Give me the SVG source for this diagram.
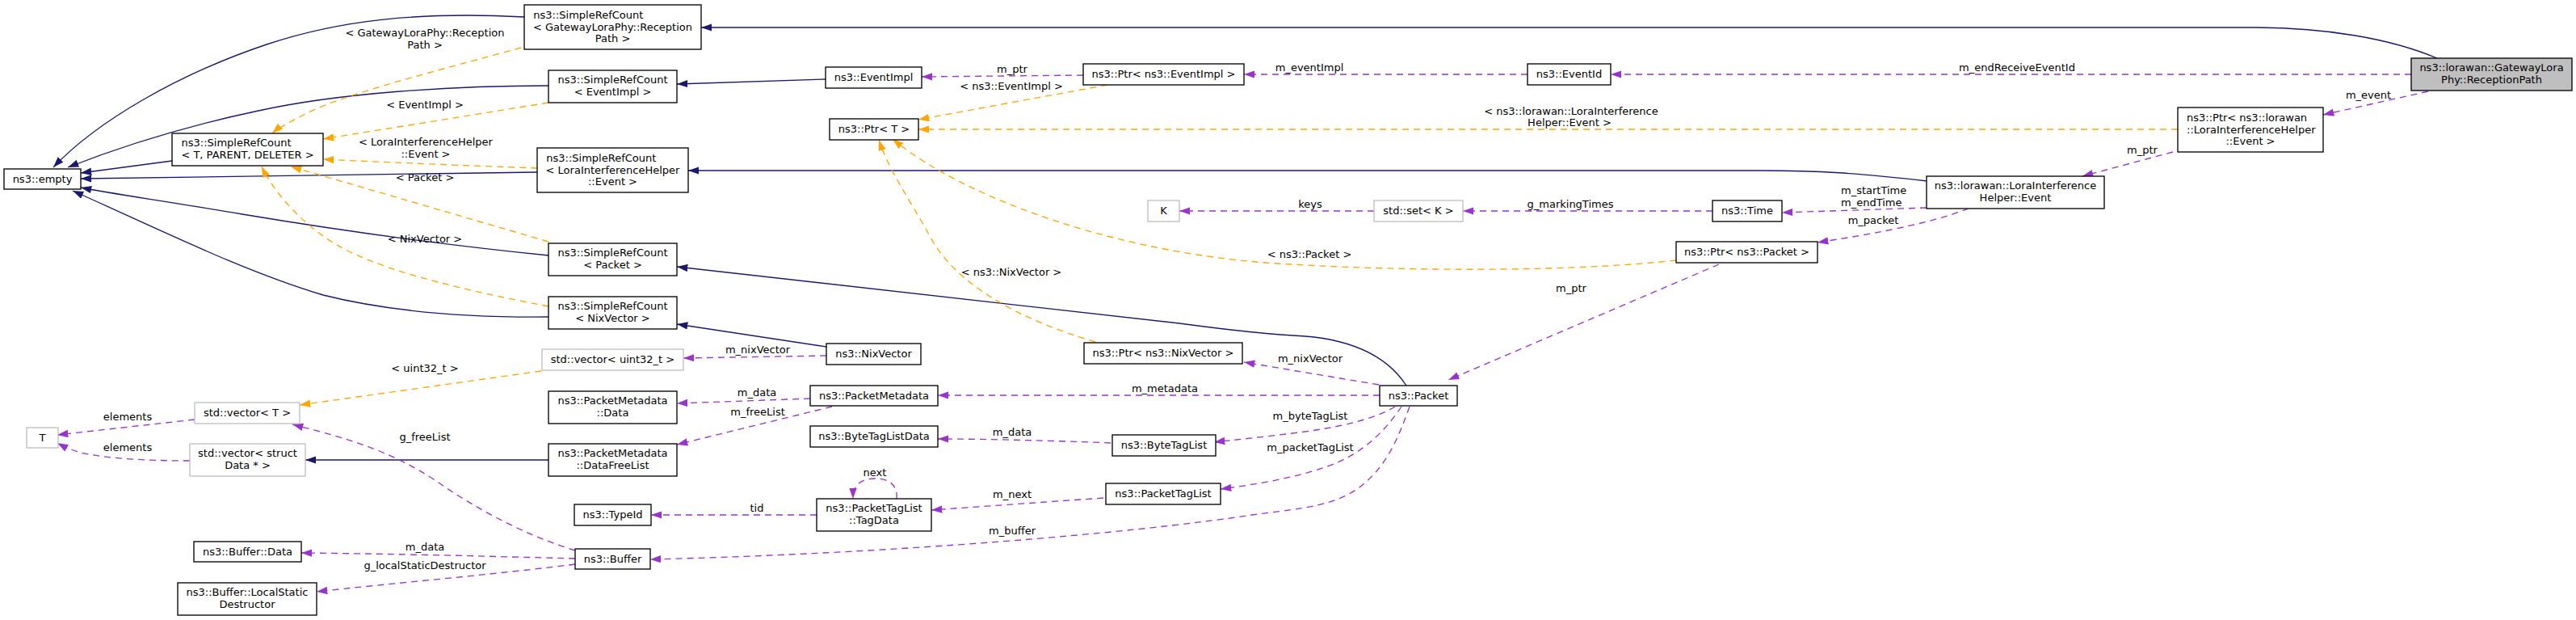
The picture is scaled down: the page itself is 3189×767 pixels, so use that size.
<svg xmlns="http://www.w3.org/2000/svg" width="3189" height="767" viewBox="0 0 3189 767">
<style>
text{font-family:"DejaVu Sans","Liberation Sans",sans-serif;font-size:13px;fill:#000}
.m{text-anchor:middle}
.s{text-anchor:start}
.n{fill:#fff;stroke:#000;stroke-width:1.33}
.g{fill:#fff;stroke:#bfbfbf;stroke-width:1.33}
.r{fill:#bfbfbf;stroke:#000;stroke-width:1.33}
.inh{fill:none;stroke:#191970;stroke-width:1.33;marker-end:url(#aB)}
.use{fill:none;stroke:#9a32cd;stroke-width:1.33;stroke-dasharray:8,6;marker-end:url(#aP)}
.tpl{fill:none;stroke:#ffa500;stroke-width:1.33;stroke-dasharray:8,6;marker-end:url(#aO)}
</style>
<defs>
<marker id="aB" markerWidth="14" markerHeight="10" refX="13.3" refY="4.7" orient="auto" markerUnits="userSpaceOnUse"><path d="M0,0 L13.3,4.7 L0,9.4 z" fill="#191970"/></marker>
<marker id="aP" markerWidth="14" markerHeight="10" refX="13.3" refY="4.7" orient="auto" markerUnits="userSpaceOnUse"><path d="M0,0 L13.3,4.7 L0,9.4 z" fill="#9a32cd"/></marker>
<marker id="aO" markerWidth="14" markerHeight="10" refX="13.3" refY="4.7" orient="auto" markerUnits="userSpaceOnUse"><path d="M0,0 L13.3,4.7 L0,9.4 z" fill="#ffa500"/></marker>
</defs>
<rect width="3189" height="767" fill="#fff"/>
<g id="edges">
<path class="inh" d="M649,21 C520,14 420,25 330,55 C220,92 120,150 66,207"/>
<path class="inh" d="M679,106 C560,106 420,115 320,137 C220,158 140,185 84,207"/>
<path class="inh" d="M213,199 L100,214"/>
<path class="inh" d="M665,213 L100,221"/>
<path class="inh" d="M679,316 C560,304 420,285 300,265 C200,248 140,240 100,232"/>
<path class="inh" d="M679,392 C580,393 480,385 400,365 C300,335 200,285 90,236"/>
<path class="inh" d="M3017,72 C2960,48 2880,34 2790,34 L868,34"/>
<path class="inh" d="M1022,98 L838,104"/>
<path class="inh" d="M2386,224 C2300,214 2250,211 2180,211 L852,211"/>
<path class="inh" d="M1741,477 C1720,445 1680,418 1600,415 C1560,413 1520,408 1460,400 L838,330"/>
<path class="inh" d="M1023,429 L838,401"/>
<path class="inh" d="M679,569 L378,569"/>
<path class="tpl" d="M645,59 C540,88 430,115 380,140 C360,150 345,158 337,165"/>
<path class="tpl" d="M679,127 L400,172"/>
<path class="tpl" d="M665,208 C580,205 460,200 400,197"/>
<path class="tpl" d="M679,299 L360,206"/>
<path class="tpl" d="M679,379 C590,362 490,340 430,310 C380,285 340,240 324,206"/>
<path class="tpl" d="M1371,105 L1137,148"/>
<path class="tpl" d="M2696,160 L1137,160"/>
<path class="tpl" d="M2075,322 C1950,336 1750,336 1600,327 C1400,318 1200,250 1105,172"/>
<path class="tpl" d="M1356,423 C1260,395 1180,350 1150,290 C1125,245 1100,210 1088,173"/>
<path class="tpl" d="M670,459 L371,501"/>
<path class="use" d="M2985,92 L1994,92"/>
<path class="use" d="M3006,113 L2876,142"/>
<path class="use" d="M2690,188 L2578,218"/>
<path class="use" d="M1891,92 L1540,92"/>
<path class="use" d="M1341,93 L1141,95"/>
<path class="use" d="M2385,257 L2206,263"/>
<path class="use" d="M2437,258 C2380,280 2300,292 2250,300"/>
<path class="use" d="M2120,261 L1811,261"/>
<path class="use" d="M1701,261 L1460,261"/>
<path class="use" d="M2128,327 L1793,470"/>
<path class="use" d="M1707,476 L1540,448"/>
<path class="use" d="M1708,489 L1161,489"/>
<path class="use" d="M1727,503 C1700,520 1650,530 1600,536 C1560,541 1530,544 1503,547"/>
<path class="use" d="M1735,503 C1710,540 1680,565 1640,578 C1600,592 1550,600 1511,605"/>
<path class="use" d="M1745,503 C1730,545 1715,580 1680,605 C1650,625 1620,628 1550,637 C1400,660 1100,685 805,692"/>
<path class="use" d="M1003,493 L838,499"/>
<path class="use" d="M1030,503 L838,550"/>
<path class="use" d="M1375,548 C1300,545 1220,543 1161,543"/>
<path class="use" d="M1366,616 L1153,631"/>
<path class="use" d="M1110,617 C1112,600 1100,592 1083,592 C1066,592 1056,600 1056,617"/>
<path class="use" d="M1011,637 L806,637"/>
<path class="use" d="M1023,440 L846,443"/>
<path class="use" d="M712,681 C650,662 590,630 540,595 C480,555 420,540 362,525"/>
<path class="use" d="M712,691 C600,688 480,685 373,684"/>
<path class="use" d="M712,698 C600,712 480,722 392,732"/>
<path class="use" d="M241,519 L71,538"/>
<path class="use" d="M235,570 C180,570 130,567 100,560 C90,557 80,553 71,548"/>
</g>
<g id="edge-labels">
<text class="m" x="526" y="45">&lt; GatewayLoraPhy::Reception</text>
<text class="m" x="526" y="60">Path &gt;</text>
<text class="m" x="526" y="134">&lt; EventImpl &gt;</text>
<text class="m" x="527" y="180">&lt; LoraInterferenceHelper</text>
<text class="m" x="527" y="195">::Event &gt;</text>
<text class="m" x="526" y="224">&lt; Packet &gt;</text>
<text class="m" x="526" y="300">&lt; NixVector &gt;</text>
<text class="m" x="1252" y="111">&lt; ns3::EventImpl &gt;</text>
<text class="m" x="1945" y="141.5">&lt; ns3::lorawan::LoraInterference</text>
<text class="m" x="1943" y="156">Helper::Event &gt;</text>
<text class="m" x="1621" y="318.5">&lt; ns3::Packet &gt;</text>
<text class="m" x="1252" y="341">&lt; ns3::NixVector &gt;</text>
<text class="m" x="526" y="460">&lt; uint32_t &gt;</text>
<text class="m" x="2497" y="88">m_endReceiveEventId</text>
<text class="m" x="2932" y="122">m_event</text>
<text class="m" x="2652" y="189.5">m_ptr</text>
<text class="m" x="1621" y="88">m_eventImpl</text>
<text class="m" x="1253" y="90">m_ptr</text>
<text class="s" x="2279" y="240">m_startTime</text>
<text class="s" x="2279" y="255">m_endTime</text>
<text class="m" x="2319" y="277">m_packet</text>
<text class="m" x="1944" y="257">g_markingTimes</text>
<text class="m" x="1622" y="257">keys</text>
<text class="m" x="1945" y="360.5">m_ptr</text>
<text class="m" x="1622" y="448">m_nixVector</text>
<text class="m" x="1442" y="485">m_metadata</text>
<text class="m" x="1622" y="519">m_byteTagList</text>
<text class="m" x="1622" y="557.5">m_packetTagList</text>
<text class="m" x="1253" y="661">m_buffer</text>
<text class="m" x="937" y="489.5">m_data</text>
<text class="m" x="938" y="513.5">m_freeList</text>
<text class="m" x="1253" y="539">m_data</text>
<text class="m" x="1253" y="616">m_next</text>
<text class="m" x="1083" y="589">next</text>
<text class="m" x="937" y="633">tid</text>
<text class="m" x="938" y="437">m_nixVector</text>
<text class="m" x="526" y="544.5">g_freeList</text>
<text class="m" x="526" y="680.5">m_data</text>
<text class="m" x="526" y="704">g_localStaticDestructor</text>
<text class="m" x="158" y="520">elements</text>
<text class="m" x="158" y="557.5">elements</text>
</g>
<g id="node-root"><rect class="r" x="2985" y="72" width="199" height="40"/><text class="m" x="3084.5" y="88.3">ns3::lorawan::GatewayLora</text><text class="m" x="3084.5" y="102.7">Phy::ReceptionPath</text></g>
<g id="node-empty"><rect class="n" x="5" y="209" width="95" height="25"/><text class="m" x="52.5" y="225.5">ns3::empty</text></g>
<g id="node-src-t"><rect class="n" x="213" y="165" width="187" height="40"/><text class="s" x="224.5" y="181.3">ns3::SimpleRefCount</text><text class="m" x="306.5" y="195.7">&lt; T, PARENT, DELETER &gt;</text></g>
<g id="node-src-glp"><rect class="n" x="649" y="6" width="219" height="55"/><text class="s" x="660.3" y="23.1">ns3::SimpleRefCount</text><text class="m" x="758.5" y="37.5">&lt; GatewayLoraPhy::Reception</text><text class="m" x="758.5" y="51.9">Path &gt;</text></g>
<g id="node-src-ei"><rect class="n" x="679" y="87" width="159" height="40"/><text class="m" x="758.5" y="103.3">ns3::SimpleRefCount</text><text class="m" x="758.5" y="117.7">&lt; EventImpl &gt;</text></g>
<g id="node-src-lih"><rect class="n" x="665" y="183" width="187" height="55"/><text class="s" x="676.3" y="200.1">ns3::SimpleRefCount</text><text class="m" x="758.5" y="214.5">&lt; LoraInterferenceHelper</text><text class="m" x="758.5" y="228.9">::Event &gt;</text></g>
<g id="node-src-p"><rect class="n" x="679" y="301" width="159" height="40"/><text class="m" x="758.5" y="317.3">ns3::SimpleRefCount</text><text class="m" x="758.5" y="331.7">&lt; Packet &gt;</text></g>
<g id="node-src-nv"><rect class="n" x="679" y="367" width="159" height="40"/><text class="m" x="758.5" y="383.3">ns3::SimpleRefCount</text><text class="m" x="758.5" y="397.7">&lt; NixVector &gt;</text></g>
<g id="node-eventimpl"><rect class="n" x="1022" y="83" width="119" height="26"/><text class="m" x="1081.5" y="100">ns3::EventImpl</text></g>
<g id="node-ptr-ei"><rect class="n" x="1341" y="79" width="199" height="26"/><text class="m" x="1440.5" y="96">ns3::Ptr&lt; ns3::EventImpl &gt;</text></g>
<g id="node-ptr-t"><rect class="n" x="1027" y="147" width="110" height="26"/><text class="m" x="1082" y="164">ns3::Ptr&lt; T &gt;</text></g>
<g id="node-eventid"><rect class="n" x="1891" y="79" width="103" height="26"/><text class="m" x="1942.5" y="96">ns3::EventId</text></g>
<g id="node-ptr-lihe"><rect class="n" x="2696" y="133" width="180" height="55"/><text class="s" x="2707" y="150.1">ns3::Ptr&lt; ns3::lorawan</text><text class="s" x="2707" y="164.5">::LoraInterferenceHelper</text><text class="m" x="2786" y="178.9">::Event &gt;</text></g>
<g id="node-lih-event"><rect class="n" x="2385" y="218" width="220" height="40"/><text class="m" x="2495" y="234.3">ns3::lorawan::LoraInterference</text><text class="m" x="2495" y="248.7">Helper::Event</text></g>
<g id="node-k"><rect class="g" x="1421" y="248" width="39" height="26"/><text class="m" x="1440.5" y="265">K</text></g>
<g id="node-set-k"><rect class="g" x="1701" y="248" width="110" height="26"/><text class="m" x="1756" y="265">std::set&lt; K &gt;</text></g>
<g id="node-time"><rect class="n" x="2120" y="248" width="86" height="26"/><text class="m" x="2163" y="265">ns3::Time</text></g>
<g id="node-ptr-p"><rect class="n" x="2075" y="299" width="175" height="26"/><text class="m" x="2162.5" y="316">ns3::Ptr&lt; ns3::Packet &gt;</text></g>
<g id="node-packet"><rect class="n" x="1708" y="477" width="96" height="25"/><text class="m" x="1756" y="493.5">ns3::Packet</text></g>
<g id="node-nixvector"><rect class="n" x="1023" y="425" width="117" height="26"/><text class="m" x="1081.5" y="442">ns3::NixVector</text></g>
<g id="node-ptr-nv"><rect class="n" x="1342" y="424" width="196" height="26"/><text class="m" x="1440" y="441">ns3::Ptr&lt; ns3::NixVector &gt;</text></g>
<g id="node-vec-u32"><rect class="g" x="671" y="432" width="175" height="26"/><text class="m" x="758.5" y="449">std::vector&lt; uint32_t &gt;</text></g>
<g id="node-pm"><rect class="n" x="1003" y="477" width="158" height="25"/><text class="m" x="1082" y="493.5">ns3::PacketMetadata</text></g>
<g id="node-pm-data"><rect class="n" x="679" y="484" width="159" height="40"/><text class="m" x="758.5" y="500.3">ns3::PacketMetadata</text><text class="m" x="758.5" y="514.7">::Data</text></g>
<g id="node-pm-dfl"><rect class="n" x="679" y="549" width="159" height="40"/><text class="m" x="758.5" y="565.3">ns3::PacketMetadata</text><text class="m" x="758.5" y="579.7">::DataFreeList</text></g>
<g id="node-btld"><rect class="n" x="1003" y="527" width="158" height="26"/><text class="m" x="1082" y="544">ns3::ByteTagListData</text></g>
<g id="node-btl"><rect class="n" x="1377" y="538" width="128" height="26"/><text class="m" x="1441" y="555">ns3::ByteTagList</text></g>
<g id="node-tagdata"><rect class="n" x="1011" y="617" width="142" height="40"/><text class="m" x="1082" y="633.3">ns3::PacketTagList</text><text class="m" x="1082" y="647.7">::TagData</text></g>
<g id="node-ptl"><rect class="n" x="1369" y="598" width="142" height="26"/><text class="m" x="1440" y="615">ns3::PacketTagList</text></g>
<g id="node-typeid"><rect class="n" x="711" y="624" width="95" height="26"/><text class="m" x="758.5" y="641">ns3::TypeId</text></g>
<g id="node-buffer"><rect class="n" x="712" y="679" width="93" height="25"/><text class="m" x="758.5" y="695.5">ns3::Buffer</text></g>
<g id="node-vec-t"><rect class="g" x="241" y="498" width="130" height="26"/><text class="m" x="306" y="515">std::vector&lt; T &gt;</text></g>
<g id="node-vec-sd"><rect class="g" x="235" y="549" width="143" height="40"/><text class="m" x="306.5" y="565.3">std::vector&lt; struct</text><text class="m" x="306.5" y="579.7">Data * &gt;</text></g>
<g id="node-t"><rect class="g" x="33" y="529" width="39" height="25"/><text class="m" x="52.5" y="545.5">T</text></g>
<g id="node-buffer-data"><rect class="n" x="240" y="670" width="133" height="25"/><text class="m" x="306.5" y="686.5">ns3::Buffer::Data</text></g>
<g id="node-lsd"><rect class="n" x="220" y="721" width="172" height="40"/><text class="m" x="306" y="737.3">ns3::Buffer::LocalStatic</text><text class="m" x="306" y="751.7">Destructor</text></g>
</svg>
